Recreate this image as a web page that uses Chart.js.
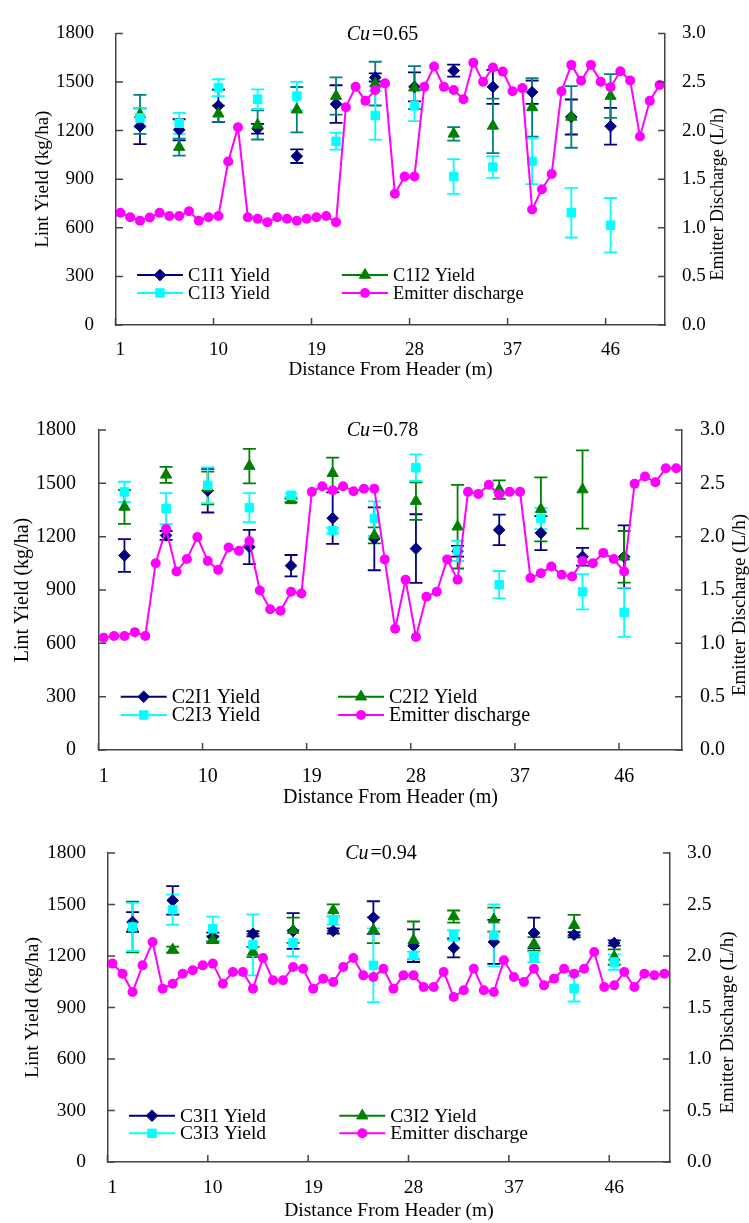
<!DOCTYPE html>
<html>
<head>
<meta charset="utf-8">
<script src="https://cdn.jsdelivr.net/npm/chart.js@4/dist/chart.umd.min.js"></script>
<style>
  html, body { margin: 0; padding: 0; background: #fff; }
  body { width: 749px; height: 1223px; position: relative; overflow: hidden; }
  canvas { position: absolute; left: 0; }
</style>
</head>
<body>
<canvas id="chartC1" width="749" height="395" style="top:0px"></canvas>
<canvas id="chartC2" width="749" height="415" style="top:395px"></canvas>
<canvas id="chartC3" width="749" height="413" style="top:810px"></canvas>
<script>
// Vị trí các vòi (m tính từ đầu ống), cách nhau 0.9 m
const distance = [1, 1.9, 2.8, 3.7, 4.6, 5.5, 6.4, 7.3, 8.2, 9.1,
  10, 10.9, 11.8, 12.7, 13.6, 14.5, 15.4, 16.3, 17.2, 18.1,
  19, 19.9, 20.8, 21.7, 22.6, 23.5, 24.4, 25.3, 26.2, 27.1,
  28, 28.9, 29.8, 30.7, 31.6, 32.5, 33.4, 34.3, 35.2, 36.1,
  37, 37.9, 38.8, 39.7, 40.6, 41.5, 42.4, 43.3, 44.2, 45.1,
  46, 46.9, 47.8, 48.7, 49.6, 50.5];
// Vị trí lấy mẫu năng suất
const sampleDistance = [2.8, 6.4, 10, 13.6, 17.2, 20.8, 24.4, 28, 31.6, 35.2, 38.8, 42.4, 46];
const xTickLabels = [1, 10, 19, 28, 37, 46];

// Cu = 0.65
const dischargeC1 = [1.155, 1.109, 1.073, 1.106, 1.155, 1.122, 1.122, 1.171, 1.073, 1.109,
  1.122, 1.682, 2.035, 1.109, 1.093, 1.057, 1.109, 1.093, 1.073, 1.093,
  1.109, 1.122, 1.057, 2.241, 2.45, 2.306, 2.418, 2.486, 1.351, 1.528,
  1.528, 2.45, 2.66, 2.45, 2.418, 2.323, 2.699, 2.503, 2.65, 2.607,
  2.405, 2.437, 1.188, 1.397, 1.554, 2.405, 2.676, 2.513, 2.676, 2.503,
  2.447, 2.61, 2.516, 1.94, 2.306, 2.47];
const yieldC1I1 = [1227, 1205, 1353, 1211, 1042, 1364, 1528, 1470, 1570, 1470, 1437, 1284, 1227];
const errC1I1 = [110, 65, 100, 30, 42, 116, 25, 90, 37, 105, 72, 108, 113];
const yieldC1I2 = [1300, 1098, 1304, 1235, 1329, 1413, 1490, 1465, 1180, 1229, 1343, 1284, 1413];
const errC1I2 = [120, 53, 50, 90, 140, 115, 135, 133, 42, 168, 180, 190, 135];
const yieldC1I3 = [1278, 1245, 1465, 1394, 1413, 1134, 1294, 1353, 917, 975, 1010, 693, 616];
const errC1I3 = [60, 65, 52, 60, 88, 52, 150, 95, 107, 67, 140, 153, 168];

// Cu = 0.78
const dischargeC2 = [1.053, 1.069, 1.069, 1.105, 1.069, 1.75, 2.073, 1.673, 1.79, 1.996,
  1.772, 1.689, 1.898, 1.867, 1.959, 1.495, 1.32, 1.305, 1.483, 1.468,
  2.42, 2.472, 2.435, 2.472, 2.426, 2.45, 2.45, 1.787, 1.136, 1.597,
  1.059, 1.437, 1.483, 1.787, 1.597, 2.42, 2.401, 2.487, 2.395, 2.42,
  2.42, 1.612, 1.658, 1.72, 1.643, 1.627, 1.772, 1.75, 1.848, 1.79,
  1.673, 2.496, 2.564, 2.51, 2.641, 2.641];
const yieldC2I1 = [1094, 1207, 1459, 1142, 1037, 1304, 1188, 1133, 1118, 1238, 1220, 1087, 1087];
const errC2I1 = [92, 25, 123, 96, 60, 145, 177, 193, 30, 86, 96, 50, 177];
const yieldC2I2 = [1367, 1548, 1474, 1597, 1404, 1557, 1207, 1400, 1256, 1465, 1354, 1465, 1087];
const errC2I2 = [95, 45, 92, 97, 10, 88, 45, 105, 235, 52, 180, 220, 145];
const yieldC2I3 = [1452, 1358, 1489, 1363, 1433, 1234, 1302, 1588, 1120, 930, 1302, 890, 774];
const errC2I3 = [57, 87, 100, 82, 10, 15, 97, 75, 57, 77, 60, 99, 138];

// Cu = 0.94
const dischargeC3 = [1.926, 1.828, 1.65, 1.909, 2.136, 1.683, 1.731, 1.828, 1.861, 1.909,
  1.926, 1.731, 1.845, 1.845, 1.683, 1.981, 1.764, 1.764, 1.893, 1.877,
  1.683, 1.78, 1.748, 1.893, 1.981, 1.812, 1.796, 1.877, 1.683, 1.812,
  1.812, 1.699, 1.699, 1.845, 1.602, 1.667, 1.877, 1.667, 1.65, 1.958,
  1.796, 1.748, 1.877, 1.715, 1.78, 1.877, 1.828, 1.877, 2.039, 1.699,
  1.715, 1.845, 1.699, 1.828, 1.812, 1.828];
const yieldC3I1 = [1398, 1524, 1311, 1330, 1346, 1346, 1424, 1260, 1247, 1282, 1334, 1324, 1276];
const errC3I1 = [58, 83, 25, 15, 104, 15, 95, 95, 55, 128, 90, 15, 15];
const yieldC3I2 = [1369, 1237, 1295, 1223, 1350, 1466, 1350, 1291, 1430, 1412, 1270, 1379, 1194];
const errC3I2 = [148, 18, 20, 30, 74, 35, 75, 110, 35, 70, 40, 60, 45];
const yieldC3I3 = [1369, 1470, 1359, 1265, 1276, 1408, 1146, 1204, 1320, 1320, 1194, 1010, 1165];
const errC3I3 = [140, 88, 70, 178, 78, 25, 215, 20, 30, 180, 30, 75, 45];

const NAVY = '#000080', GREEN = '#008000', TEAL = '#008080', CYAN = '#00ffff', MAGENTA = '#ff00ff';
const AXIS = '#444';
const FONT = '"Liberation Serif", "Times New Roman", serif';
const halfStep = 0.45; // vạch chia nằm giữa hai vòi

const pts = (xs, ys) => xs.map((x, i) => ({ x: x, y: ys[i] }));

// Vẽ thanh sai số, vạch chia hướng vào trong, tiêu đề Cu, chú thích
const panelDeco = {
  id: 'panelDeco',
  beforeDatasetsDraw(chart) {
    const ctx = chart.ctx, xs = chart.scales.x, ys = chart.scales.y;
    chart.data.datasets.forEach(ds => {
      if (!ds.errorBars) return;
      ctx.save();
      ctx.strokeStyle = ds.errorColor;
      ctx.lineWidth = 1.8;
      ds.data.forEach((p, j) => {
        const e = ds.errorBars[j];
        const px = xs.getPixelForValue(p.x);
        const top = ys.getPixelForValue(p.y + e), bot = ys.getPixelForValue(p.y - e);
        ctx.beginPath();
        ctx.moveTo(px, top); ctx.lineTo(px, bot);
        ctx.moveTo(px - 6.5, top); ctx.lineTo(px + 6.5, top);
        ctx.moveTo(px - 6.5, bot); ctx.lineTo(px + 6.5, bot);
        ctx.stroke();
      });
      ctx.restore();
    });
  },
  afterDraw(chart, args, o) {
    const ctx = chart.ctx, ca = chart.chartArea;
    const xs = chart.scales.x, ys = chart.scales.y, y1 = chart.scales.y1;
    ctx.save();
    // vạch chia
    ctx.strokeStyle = AXIS;
    ctx.lineWidth = 1.5;
    ctx.beginPath();
    ys.ticks.forEach(t => { const py = ys.getPixelForValue(t.value); ctx.moveTo(ca.left, py); ctx.lineTo(ca.left + 7, py); });
    y1.ticks.forEach(t => { const py = y1.getPixelForValue(t.value); ctx.moveTo(ca.right - 7, py); ctx.lineTo(ca.right, py); });
    xs.ticks.forEach(t => { const px = xs.getPixelForValue(t.value - halfStep); ctx.moveTo(px, ca.bottom); ctx.lineTo(px, ca.bottom - 7); });
    ctx.stroke();

    // tiêu đề Cu = ...
    ctx.fillStyle = '#000';
    ctx.textBaseline = 'middle';
    ctx.textAlign = 'left';
    ctx.font = 'italic ' + o.titleSize + 'px ' + FONT;
    const w1 = ctx.measureText('Cu').width + 2;
    ctx.font = o.titleSize + 'px ' + FONT;
    const w2 = ctx.measureText('=' + o.cu).width;
    const tx = (ca.left + ca.right) / 2 - 8 - (w1 + w2) / 2, ty = ca.top + 1;
    ctx.font = 'italic ' + o.titleSize + 'px ' + FONT;
    ctx.fillText('Cu', tx, ty);
    ctx.font = o.titleSize + 'px ' + FONT;
    ctx.fillText('=' + o.cu, tx + w1, ty);

    // tên trục phải, đọc từ dưới lên
    ctx.save();
    ctx.font = o.rightTitleSize + 'px ' + FONT;
    ctx.textAlign = 'center';
    ctx.translate(o.rightTitleX, (ca.top + ca.bottom) / 2 + 15);
    ctx.rotate(-Math.PI / 2);
    ctx.fillText('Emitter Discharge (L/h)', 0, 0);
    ctx.restore();

    // chú thích 2 cột x 2 hàng
    ctx.font = o.legendSize + 'px ' + FONT;
    o.legendOrder.forEach((di, k) => {
      const ds = chart.data.datasets[di];
      const lx = o.legendCols[k % 2], ly = o.legendRows[Math.floor(k / 2)];
      ctx.strokeStyle = ds.borderColor;
      ctx.lineWidth = 2;
      ctx.beginPath();
      ctx.moveTo(lx, ly); ctx.lineTo(lx + 46, ly);
      ctx.stroke();
      ctx.fillStyle = ds.backgroundColor;
      ctx.lineWidth = ds.pointBorderWidth;
      Chart.helpers.drawPoint(ctx, { pointStyle: ds.pointStyle, radius: ds.pointRadius, rotation: 0, borderWidth: ds.pointBorderWidth }, lx + 23, ly);
      ctx.fillStyle = '#000';
      ctx.textAlign = 'left';
      ctx.fillText(ds.label, lx + 51, ly + 1);
    });
    ctx.restore();
  }
};

function makePanel(id, cu, names, yields, errs, errColors, discharge, lay) {
  const f = lay.font;
  const yieldSet = (k, style, color, radius) => ({
    type: 'line', label: names[k], data: pts(sampleDistance, yields[k]), yAxisID: 'y',
    showLine: false, pointStyle: style, pointRadius: radius, pointBorderWidth: 1,
    backgroundColor: color, borderColor: color,
    errorBars: errs[k], errorColor: errColors[k], order: 3 - k
  });
  new Chart(document.getElementById(id), {
    type: 'line',
    data: {
      datasets: [
        yieldSet(0, 'rectRot', NAVY, 5.8),
        yieldSet(1, 'triangle', GREEN, 6.5),
        yieldSet(2, 'rect', CYAN, 6),
        {
          type: 'line', label: 'Emitter discharge', data: pts(distance, discharge), yAxisID: 'y1',
          borderColor: MAGENTA, backgroundColor: MAGENTA, borderWidth: 2, tension: 0,
          pointStyle: 'circle', pointRadius: 5, pointBorderWidth: 0, order: 0
        }
      ]
    },
    options: {
      responsive: false,
      animation: false,
      devicePixelRatio: 1,
      layout: { padding: { top: lay.padTop, left: 0, right: 0, bottom: 0 } },
      plugins: {
        legend: { display: false },
        tooltip: { enabled: false },
        panelDeco: {
          cu: cu, titleSize: 20, rightTitleX: lay.rightTitleX, rightTitleSize: lay.rightTitleSize,
          legendSize: lay.legendSize, legendRows: lay.legendRows, legendCols: lay.legendCols,
          legendOrder: [0, 1, 2, 3]
        }
      },
      scales: {
        x: {
          type: 'linear', min: 0.6, max: 51,
          afterBuildTicks: s => { s.ticks = xTickLabels.map(v => ({ value: v })); },
          afterFit: s => { s.height = lay.bottomH; },
          grid: { display: false, drawTicks: false },
          border: { display: true, color: AXIS, width: 1.5 },
          ticks: { autoSkip: false, maxRotation: 0, padding: lay.xTickPad, color: '#000', font: { family: FONT, size: f },
                   callback: v => String(v) },
          title: { display: true, text: 'Distance From Header (m)', color: '#000', font: { family: FONT, size: f }, padding: { top: 0, bottom: lay.xTitlePad } }
        },
        y: {
          position: 'left', min: 0, max: 1800,
          afterFit: s => { s.width = lay.leftW; },
          grid: { display: false, drawTicks: false },
          border: { display: true, color: AXIS, width: 1.5 },
          ticks: { stepSize: 300, padding: lay.yTickPad, color: '#000', font: { family: FONT, size: f },
                   callback: v => String(v) },
          title: { display: true, text: 'Lint Yield (kg/ha)', color: '#000', font: { family: FONT, size: f }, padding: { top: lay.yTitlePad, bottom: 0 } }
        },
        y1: {
          position: 'right', min: 0, max: 3,
          afterFit: s => { s.width = lay.rightW; },
          grid: { display: false, drawTicks: false },
          border: { display: true, color: AXIS, width: 1.5 },
          ticks: { stepSize: 0.5, padding: lay.y1TickPad, color: '#000', font: { family: FONT, size: f },
                   callback: v => v.toFixed(1) }
        }
      }
    },
    plugins: [panelDeco]
  });
}

makePanel('chartC1', '0.65', ['C1I1 Yield', 'C1I2 Yield', 'C1I3 Yield'],
  [yieldC1I1, yieldC1I2, yieldC1I3], [errC1I1, errC1I2, errC1I3], [NAVY, TEAL, CYAN], dischargeC1,
  { font: 19, padTop: 19, leftW: 116, rightW: 84, bottomH: 70, xTickPad: 13.6, xTitlePad: 13.6,
    yTickPad: 22, y1TickPad: 17, yTitlePad: 31.6, rightTitleX: 718, rightTitleSize: 18,
    legendSize: 18.5, legendRows: [275, 293], legendCols: [137, 342] });

makePanel('chartC2', '0.78', ['C2I1 Yield', 'C2I2 Yield', 'C2I3 Yield'],
  [yieldC2I1, yieldC2I2, yieldC2I3], [errC2I1, errC2I2, errC2I3], [NAVY, GREEN, CYAN], dischargeC2,
  { font: 20, padTop: 29, leftW: 99, rightW: 67, bottomH: 60, xTickPad: 14.7, xTitlePad: 0,
    yTickPad: 23, y1TickPad: 18, yTitlePad: 10.3, rightTitleX: 740, rightTitleSize: 19,
    legendSize: 20, legendRows: [301.7, 320], legendCols: [120.7, 338] });

makePanel('chartC3', '0.94', ['C3I1 Yield', 'C3I2 Yield', 'C3I3 Yield'],
  [yieldC3I1, yieldC3I2, yieldC3I3], [errC3I1, errC3I2, errC3I3], [NAVY, GREEN, CYAN], dischargeC3,
  { font: 19.5, padTop: 43, leftW: 108, rightW: 79, bottomH: 61, xTickPad: 14.3, xTitlePad: 0,
    yTickPad: 22, y1TickPad: 17, yTitlePad: 21.6, rightTitleX: 728, rightTitleSize: 19,
    legendSize: 19.5, legendRows: [305.7, 323.3], legendCols: [129, 339.3] });
</script>
</body>
</html>
